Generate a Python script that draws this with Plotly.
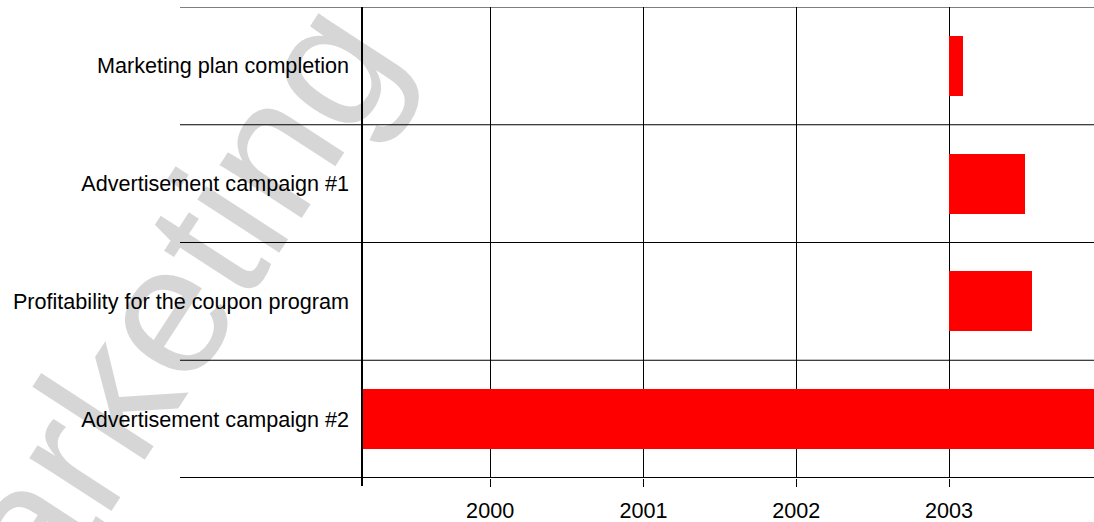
import pandas as pd
import plotly.graph_objects as go

# Tasks, top to bottom
tasks = [
    "Marketing plan completion",
    "Advertisement campaign #1",
    "Profitability for the coupon program",
    "Advertisement campaign #2",
]
start_dates = ["2003-01-01", "2003-01-01", "2003-01-01", "1999-01-01"]
end_dates = ["2003-02-03", "2003-07-02", "2003-07-18", "2004-06-30"]

# Year ticks on the time axis
tick_labels = ["2000", "2001", "2002", "2003"]
axis_range = ["1999-03-01", "2003-12-13"]

starts = pd.to_datetime(start_dates)
ends = pd.to_datetime(end_dates)
durations_ms = [(e - s).total_seconds() * 1000 for s, e in zip(starts, ends)]

FONT = "Liberation Sans, Arial, sans-serif"
LABEL_SIZE = 21.6

fig = go.Figure(
    go.Bar(
        y=tasks,
        x=durations_ms,
        base=[s.strftime("%Y-%m-%d") for s in starts],
        orientation="h",
        width=0.51,
        marker=dict(color="#ff0000", line=dict(width=0)),
        hoverinfo="skip",
    )
)

W, H = 1094, 522
m_l, m_r, m_t, m_b = 362, 0, 7, 44
plot_w = W - m_l - m_r
plot_h = H - m_t - m_b
label_col_x = (180 - m_l) / plot_w  # separators start under the label column

shapes = []
# Row separators across label column and plot
for i, yb in enumerate([-0.5, 0.5, 1.5, 2.5, 3.5]):
    shapes.append(dict(
        type="line", xref="paper", yref="y",
        x0=label_col_x, x1=1, y0=yb, y1=yb,
        line=dict(color="black", width=2 if i == 4 else 1),
        layer="above",
    ))
# Left axis line, running down into the tick area
shapes.append(dict(
    type="line", xref="paper", yref="paper",
    x0=0, x1=0, y0=1, y1=-8 / plot_h,
    line=dict(color="black", width=2),
    layer="above",
))

fig.update_layout(
    width=W, height=H,
    margin=dict(l=m_l, r=m_r, t=m_t, b=m_b, pad=0, autoexpand=False),
    paper_bgcolor="white",
    plot_bgcolor="white",
    showlegend=False,
    bargap=0,
    font=dict(family=FONT, size=LABEL_SIZE, color="black"),
    shapes=shapes,
    annotations=[dict(
        text="Marketing",
        xref="paper", yref="paper",
        x=(132 - m_l) / plot_w, y=(H - m_b - 362) / plot_h,
        xanchor="center", yanchor="middle",
        textangle=-57,
        showarrow=False,
        font=dict(family=FONT, size=185, color="rgba(0,0,0,0.16)"),
    )],
)

fig.update_xaxes(
    type="date",
    range=axis_range,
    automargin=False,
    tickvals=[f"{t}-01-01" for t in tick_labels],
    ticktext=tick_labels,
    showgrid=True, gridcolor="black", gridwidth=1,
    ticks="outside", ticklen=8, tickcolor="black", tickwidth=1,
    showline=False, zeroline=False,
    ticklabelstandoff=5,
    tickfont=dict(family=FONT, size=LABEL_SIZE, color="black"),
)
fig.update_yaxes(
    type="category",
    automargin=False,
    categoryorder="array", categoryarray=tasks,
    range=[3.5, -0.5],
    showgrid=False, zeroline=False, showline=False,
    ticks="",
    ticklabelstandoff=12,
    tickfont=dict(family=FONT, size=LABEL_SIZE, color="black"),
)

fig.write_html("out.html")
